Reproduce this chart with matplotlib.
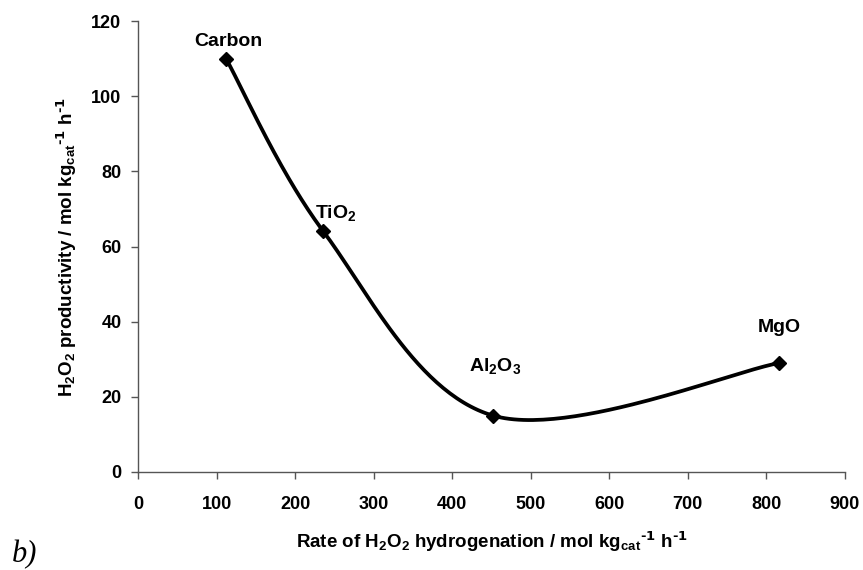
import numpy as np
import matplotlib
matplotlib.use("Agg")
import matplotlib.pyplot as plt

# Data.
supports = ["Carbon", "TiO$_2$", "Al$_2$O$_3$", "MgO"]
hydrogenation_rate = [112, 236, 452, 816]
productivity = [110, 64, 15, 29]
label_offsets = [(-23, 9), (-6, 10), (-17, 32), (-15, 22)]  # points, left/baseline

x_ticks = list(range(0, 1000, 100))
y_ticks = list(range(0, 140, 20))

plt.rcParams["font.family"] = ["Liberation Sans", "DejaVu Sans"]
plt.rcParams["font.weight"] = "bold"
plt.rcParams["mathtext.default"] = "regular"


def smooth_curve(xs, ys, sx, sy, n=60):
    """Excel-style smoothed line (Catmull-Rom Bezier) computed in screen scale."""
    pts = np.column_stack([np.asarray(xs, float) * sx, np.asarray(ys, float) * sy])
    padded = np.vstack([pts[0], pts, pts[-1]])
    out = []
    t = np.linspace(0, 1, n)[:, None]
    for i in range(1, len(padded) - 2):
        p0, p1, p2, p3 = padded[i - 1], padded[i], padded[i + 1], padded[i + 2]
        c1 = p1 + (p2 - p0) / 6
        c2 = p2 - (p3 - p1) / 6
        seg = ((1 - t) ** 3) * p1 + 3 * ((1 - t) ** 2) * t * c1 + 3 * (1 - t) * t**2 * c2 + t**3 * p2
        out.append(seg)
    curve = np.vstack(out)
    return curve[:, 0] / sx, curve[:, 1] / sy


fig = plt.figure(figsize=(8.63, 5.70), dpi=100)
ax = fig.add_axes([0.160, 0.172, 0.819, 0.791])

# Scale factors so the smoothing matches screen geometry.
sx = 707 / 900
sy = 451 / 120
cx, cy = smooth_curve(hydrogenation_rate, productivity, sx, sy)
ax.plot(cx, cy, color="black", lw=2.7, solid_capstyle="round")
ax.plot(hydrogenation_rate, productivity, "D", color="black", ms=7)

for name, x, y, off in zip(supports, hydrogenation_rate, productivity, label_offsets):
    ax.annotate(name, (x, y), xytext=off, textcoords="offset points",
                ha="left", va="baseline", fontsize=14, fontweight="bold")

ax.set_xlim(0, 900)
ax.set_ylim(0, 120)
ax.set_xticks(x_ticks)
ax.set_yticks(y_ticks)
ax.tick_params(axis="both", labelsize=13, length=5, width=1, color="#555555",
               direction="out")
ax.tick_params(axis="x", pad=12)
ax.tick_params(axis="y", pad=7)
for lbl in ax.get_xticklabels() + ax.get_yticklabels():
    lbl.set_fontweight("bold")

for side in ("top", "right"):
    ax.spines[side].set_visible(False)
for side in ("left", "bottom"):
    ax.spines[side].set_color("#555555")
    ax.spines[side].set_linewidth(1)

unit = r"mol kg$_{cat}$$^{\text{-1}}$ h$^{\text{-1}}$"
ax.set_xlabel("Rate of H$_2$O$_2$ hydrogenation / " + unit,
              fontsize=13.5, fontweight="bold", labelpad=12)
ax.set_ylabel("H$_2$O$_2$ productivity / " + unit,
              fontsize=13.5, fontweight="bold", labelpad=9)

fig.text(0.014, 0.013, "b)", fontsize=22, style="italic", fontweight="normal",
         va="baseline", family=["Liberation Serif", "DejaVu Serif"])

fig.savefig("out.png", dpi=100)
